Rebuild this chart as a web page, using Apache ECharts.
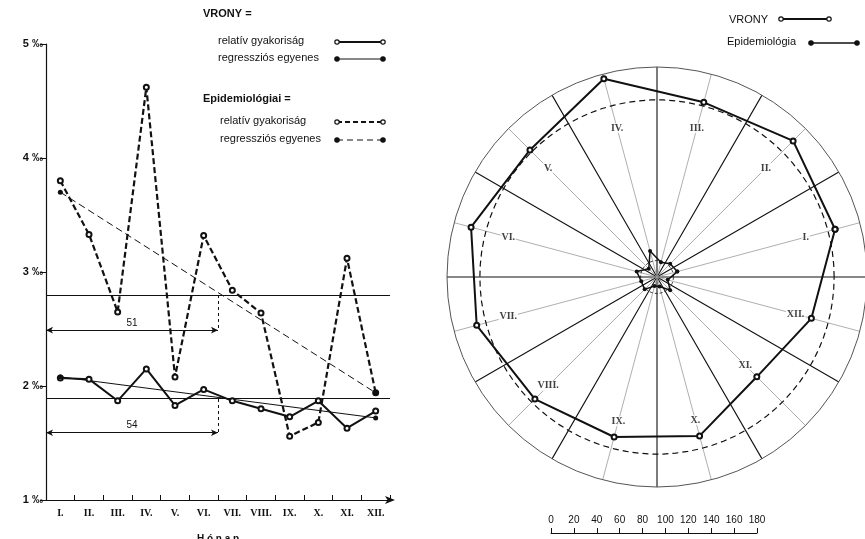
<!DOCTYPE html>
<html><head><meta charset="utf-8">
<script src="https://cdn.jsdelivr.net/npm/echarts@6/dist/echarts.min.js"></script>
<style>html,body{margin:0;padding:0;background:#fff}#c{width:865px;height:539px}</style>
</head><body><div id="c"></div>
<script>
// ---- data ----
const months = ['I.','II.','III.','IV.','V.','VI.','VII.','VIII.','IX.','X.','XI.','XII.'];
const yTickValues = [1, 2, 3, 4, 5];
const vronyRel = [2.07, 2.06, 1.87, 2.15, 1.83, 1.97, 1.87, 1.80, 1.73, 1.87, 1.63, 1.78];
const epiRel   = [3.80, 3.33, 2.65, 4.62, 2.08, 3.32, 2.84, 2.64, 1.56, 1.68, 3.12, 1.94];
const vronyRegEnds = [2.08, 1.72];
const epiRegEnds   = [3.70, 1.94];
const halfYearMonths = 6;
const dimLabels = ['51', '54'];
const dimLevels = [2.49, 1.59];
const vronyPolar = [158, 165, 155, 176, 154, 165, 160, 148, 142, 141, 121, 137];
const epiPolar   = [18, 16, 13, 23, 10, 18, 14, 15, 8, 8.5, 16, 9.5];
const scaleMax = 180;

// ---- helpers ----
const mean = a => a.reduce((s, v) => s + v, 0) / a.length;
const SANS = 'Liberation Sans';
const SERIF = 'Liberation Serif';
const INK = '#111';
function circlePts(r) { const p = []; for (let a = 0; a <= 360; a += 4) p.push([r, a]); return p; }
function closed(vals) { const d = vals.map((v, i) => [v, months[i]]); d.push([vals[0], months[0]]); return d; }

const chart = echarts.init(document.getElementById('c'), null, {renderer: 'canvas'});

const legendText = (x, y, t, bold) => ({type: 'text', left: x, top: y - 7, style: {text: t, font: (bold ? 'bold ' : '') + '11px ' + SANS, fill: INK}});
const legendLine = (x1, x2, y, w, dash, open) => ([
  {type: 'line', shape: {x1: x1, y1: y, x2: x2, y2: y}, style: {stroke: INK, lineWidth: w, lineDash: dash}},
  {type: 'circle', shape: {cx: x1, cy: y, r: 2.2}, style: {stroke: INK, lineWidth: 1.2, fill: open ? '#fff' : INK}},
  {type: 'circle', shape: {cx: x2, cy: y, r: 2.2}, style: {stroke: INK, lineWidth: 1.2, fill: open ? '#fff' : INK}}
]);

const option = {
  animation: false,
  backgroundColor: '#fff',
  grid: [
    {left: 46, top: 44, width: 344, height: 456, containLabel: false, outerBoundsMode: 'none'},
    {left: 551, top: 531, width: 206, height: 2, containLabel: false, outerBoundsMode: 'none'}
  ],
  xAxis: [
    {gridIndex: 0, type: 'category', data: months, boundaryGap: true,
     axisLine: {show: true, lineStyle: {color: INK, width: 1.2}, symbol: ['none', 'arrow'], symbolSize: [6, 10], symbolOffset: [0, 5]},
     axisTick: {show: true, inside: true, length: 5, lineStyle: {color: INK}},
     axisLabel: {color: INK, fontFamily: SERIF, fontWeight: 'bold', fontSize: 10, margin: 8},
     name: 'H ó n a p', nameLocation: 'middle', nameGap: 34,
     nameTextStyle: {color: INK, fontFamily: SANS, fontWeight: 'bold', fontSize: 10},
     splitLine: {show: false}},
    {gridIndex: 0, type: 'value', min: 0, max: 12, show: false},
    {gridIndex: 1, type: 'value', min: 0, max: scaleMax, interval: 20,
     axisLine: {show: true, lineStyle: {color: INK, width: 1}},
     axisTick: {show: true, inside: true, length: 5, lineStyle: {color: INK}},
     axisLabel: {inside: true, margin: 8, color: INK, fontFamily: SANS, fontSize: 10},
     splitLine: {show: false}}
  ],
  yAxis: [
    {gridIndex: 0, type: 'value', min: yTickValues[0], max: yTickValues[yTickValues.length - 1], interval: 1,
     axisLine: {show: true, lineStyle: {color: INK, width: 1.2}},
     axisTick: {show: true, length: 6, lineStyle: {color: INK}},
     axisLabel: {color: INK, fontFamily: SANS, fontWeight: 'bold', fontSize: 11, margin: 3, formatter: v => v + ' ‰'},
     splitLine: {show: false}},
    {gridIndex: 1, type: 'value', show: false}
  ],
  polar: [
    {center: [657, 277], radius: 210},
    {center: [657, 277], radius: 210}
  ],
  angleAxis: [
    {polarIndex: 0, type: 'category', data: months, boundaryGap: true, startAngle: 0, clockwise: false,
     axisLine: {show: true, lineStyle: {color: '#555', width: 1}},
     axisTick: {show: false}, axisLabel: {show: false},
     splitLine: {show: true, lineStyle: {color: INK, width: 1.1}}},
    {polarIndex: 1, type: 'value', min: 0, max: 360, interval: 30, startAngle: 0, clockwise: false,
     axisLine: {show: false}, axisTick: {show: false}, axisLabel: {show: false},
     splitLine: {show: false},
     minorTick: {show: false, splitNumber: 2},
     minorSplitLine: {show: true, lineStyle: {color: '#9a9a9a', width: 0.8}}}
  ],
  radiusAxis: [
    {polarIndex: 0, type: 'value', min: 0, max: scaleMax, axisLine: {show: false}, axisTick: {show: false}, axisLabel: {show: false}, splitLine: {show: false}},
    {polarIndex: 1, type: 'value', min: 0, max: scaleMax, axisLine: {show: false}, axisTick: {show: false}, axisLabel: {show: false}, splitLine: {show: false}}
  ],
  graphic: [
    legendText(203, 15, 'VRONY =', true),
    legendText(218, 42, 'relatív gyakoriság'),
    ...legendLine(337, 383, 42, 2, null, true),
    legendText(218, 59, 'regressziós egyenes'),
    ...legendLine(337, 383, 59, 1, null, false),
    legendText(203, 100, 'Epidemiológiai =', true),
    legendText(220, 122, 'relatív gyakoriság'),
    ...legendLine(337, 383, 122, 2, [5, 3], true),
    legendText(220, 140, 'regressziós egyenes'),
    ...legendLine(337, 383, 140, 1, [6, 4], false),
    legendText(729, 21, 'VRONY'),
    ...legendLine(781, 829, 19, 2, null, true),
    legendText(727, 43, 'Epidemiológia'),
    ...legendLine(811, 857, 43, 1.5, null, false)
  ],
  series: [
    {name: 'VRONY relatív gyakoriság', type: 'line', xAxisIndex: 0, yAxisIndex: 0,
     data: vronyRel, symbol: 'emptyCircle', symbolSize: 5,
     lineStyle: {color: INK, width: 2}, itemStyle: {color: INK, borderWidth: 1.2},
     markLine: {silent: true, symbol: 'none', label: {show: false},
       lineStyle: {color: INK, width: 1, type: 'solid'}, data: [{type: 'average'}]}},
    {name: 'VRONY regressziós egyenes', type: 'line', xAxisIndex: 0, yAxisIndex: 0,
     data: [[months[0], vronyRegEnds[0]], [months[months.length - 1], vronyRegEnds[1]]],
     symbol: 'circle', symbolSize: 5, lineStyle: {color: INK, width: 1}, itemStyle: {color: INK}},
    {name: 'Epidemiológiai relatív gyakoriság', type: 'line', xAxisIndex: 0, yAxisIndex: 0,
     data: epiRel, symbol: 'emptyCircle', symbolSize: 5,
     lineStyle: {color: INK, width: 2.2, type: [6, 3]}, itemStyle: {color: INK, borderWidth: 1.2},
     markLine: {silent: true, symbol: 'none', label: {show: false},
       lineStyle: {color: INK, width: 1, type: 'solid'}, data: [{type: 'average'}]}},
    {name: 'Epidemiológiai regressziós egyenes', type: 'line', xAxisIndex: 0, yAxisIndex: 0,
     data: [[months[0], epiRegEnds[0]], [months[months.length - 1], epiRegEnds[1]]],
     symbol: 'circle', symbolSize: 5, lineStyle: {color: INK, width: 1, type: [7, 4]}, itemStyle: {color: INK}},
    {name: 'annot', type: 'line', xAxisIndex: 1, yAxisIndex: 0, data: [],
     markLine: {silent: true, symbol: ['arrow', 'arrow'], symbolSize: [5, 7],
       lineStyle: {color: INK, width: 1, type: 'solid'},
       label: {show: true, position: 'middle', color: INK, fontFamily: SANS, fontSize: 10, distance: 2},
       data: dimLevels.map((lv, i) => [
         {coord: [0, lv], label: {formatter: dimLabels[i]}},
         {coord: [halfYearMonths, lv]}
       ])}},
    {name: 'annot2', type: 'line', xAxisIndex: 1, yAxisIndex: 0, data: [],
     markLine: {silent: true, symbol: 'none', label: {show: false},
       lineStyle: {color: INK, width: 1, type: [3, 3]},
       data: [
         [{coord: [halfYearMonths, mean(epiRel)]}, {coord: [halfYearMonths, dimLevels[0]]}],
         [{coord: [halfYearMonths, mean(vronyRel)]}, {coord: [halfYearMonths, dimLevels[1]]}]
       ]}},
    {name: 'VRONY', type: 'line', coordinateSystem: 'polar', polarIndex: 0,
     data: closed(vronyPolar), symbol: 'emptyCircle', symbolSize: 5,
     lineStyle: {color: INK, width: 2}, itemStyle: {color: INK, borderWidth: 1.2}, z: 5},
    {name: 'Epidemiológia', type: 'line', coordinateSystem: 'polar', polarIndex: 0,
     data: closed(epiPolar), symbol: 'circle', symbolSize: 4,
     lineStyle: {color: INK, width: 1.5}, itemStyle: {color: INK}, z: 5},
    {name: 'labels', type: 'scatter', coordinateSystem: 'polar', polarIndex: 0,
     data: vronyPolar.map((v, i) => [Math.min(132, v - 14), months[i]]), symbolSize: 0,
     label: {show: true, position: 'inside', formatter: p => months[p.dataIndex],
       color: INK, fontFamily: SERIF, fontWeight: 'bold', fontSize: 10, backgroundColor: '#fff', padding: [0, 1]}, z: 4},
    {name: 'VRONY átlag', type: 'line', coordinateSystem: 'polar', polarIndex: 1,
     data: circlePts(mean(vronyPolar)), symbol: 'none',
     lineStyle: {color: INK, width: 1.2, type: [6, 4]}, z: 3},
    {name: 'Epi átlag', type: 'line', coordinateSystem: 'polar', polarIndex: 1,
     data: circlePts(mean(epiPolar)), symbol: 'none',
     lineStyle: {color: INK, width: 0.8, type: [3, 2]}, z: 3}
  ]
};
chart.setOption(option);
</script>
</body></html>
